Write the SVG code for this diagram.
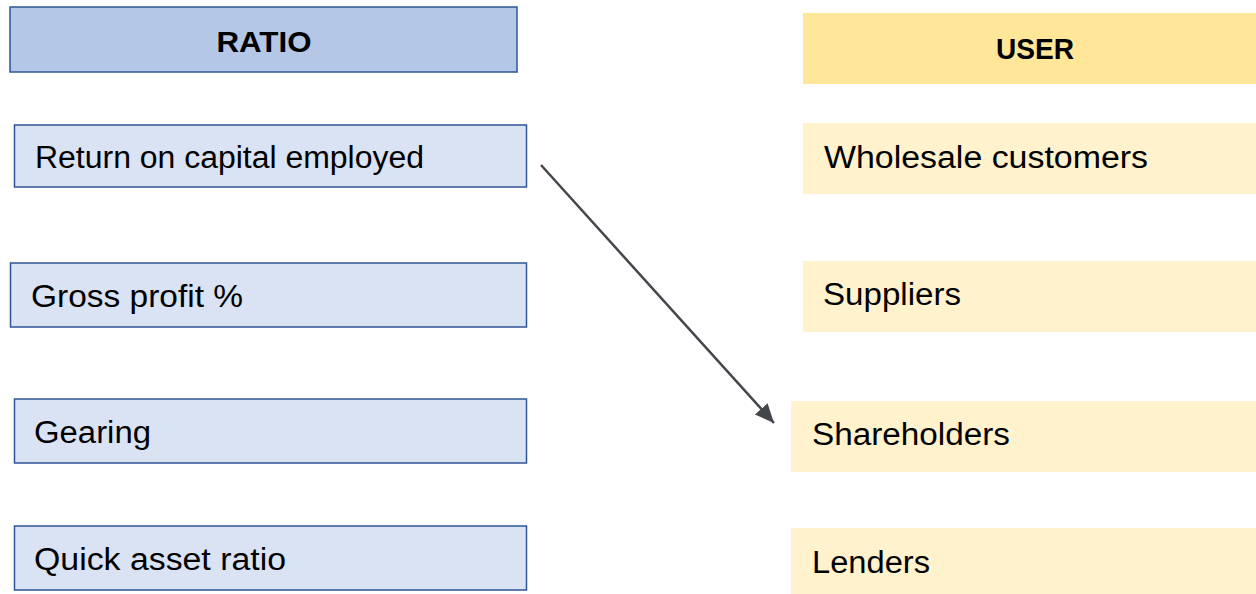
<svg xmlns="http://www.w3.org/2000/svg" width="1256" height="594" viewBox="0 0 1256 594">
<style>
.ratio{fill:#DAE3F3;stroke:#2F5597;stroke-width:1.5}
.ratioHead{fill:#B4C7E7;stroke:#2F5597;stroke-width:1.5}
.user{fill:#FFF2CC}
.userHead{fill:#FFE699}
text{font-family:"Liberation Sans",Arial,sans-serif;fill:#000}
.lbl{font-size:31px}
.hd{font-size:30px;font-weight:bold}
.conn{stroke:#43474c;stroke-width:2.5;fill:none}
</style>
<defs>
<marker id="arr" markerUnits="userSpaceOnUse" markerWidth="22" markerHeight="18" refX="19" refY="8.5" orient="auto">
<path d="M0,0 L19,8.5 L0,17 Z" fill="#43474c"/>
</marker>
</defs>
<rect width="1256" height="594" fill="#fff"/>
<g id="ratio-header"><rect class="ratioHead" x="10" y="7" width="507" height="65"/><text class="hd" x="264" y="52" text-anchor="middle" textLength="95" lengthAdjust="spacingAndGlyphs">RATIO</text></g>
<g id="roce"><rect class="ratio" x="14.5" y="125" width="512" height="62"/><text class="lbl" x="35" y="168" textLength="389" lengthAdjust="spacingAndGlyphs">Return on capital employed</text></g>
<g id="gross"><rect class="ratio" x="10.5" y="263" width="516" height="64"/><text class="lbl" x="31" y="307" textLength="212" lengthAdjust="spacingAndGlyphs">Gross profit %</text></g>
<g id="gearing"><rect class="ratio" x="14.5" y="399" width="512" height="64"/><text class="lbl" x="34" y="443" textLength="117" lengthAdjust="spacingAndGlyphs">Gearing</text></g>
<g id="quick"><rect class="ratio" x="14.5" y="526" width="512" height="64"/><text class="lbl" x="34" y="570" textLength="252" lengthAdjust="spacingAndGlyphs">Quick asset ratio</text></g>
<g id="user-header"><rect class="userHead" x="803" y="13" width="453" height="71"/><text class="hd" x="1035" y="59" text-anchor="middle" textLength="78" lengthAdjust="spacingAndGlyphs">USER</text></g>
<g id="wholesale"><rect class="user" x="803" y="123" width="453" height="71"/><text class="lbl" x="824" y="168" textLength="324" lengthAdjust="spacingAndGlyphs">Wholesale customers</text></g>
<g id="suppliers"><rect class="user" x="803" y="261" width="453" height="71"/><text class="lbl" x="823" y="305" textLength="138" lengthAdjust="spacingAndGlyphs">Suppliers</text></g>
<g id="shareholders"><rect class="user" x="791" y="401" width="465" height="71"/><text class="lbl" x="812" y="445" textLength="198" lengthAdjust="spacingAndGlyphs">Shareholders</text></g>
<g id="lenders"><rect class="user" x="791" y="528" width="465" height="66"/><text class="lbl" x="812" y="573" textLength="118" lengthAdjust="spacingAndGlyphs">Lenders</text></g>
<g id="connectors">
<line class="conn" x1="541" y1="165" x2="774" y2="423" marker-end="url(#arr)"/>
</g>
</svg>
